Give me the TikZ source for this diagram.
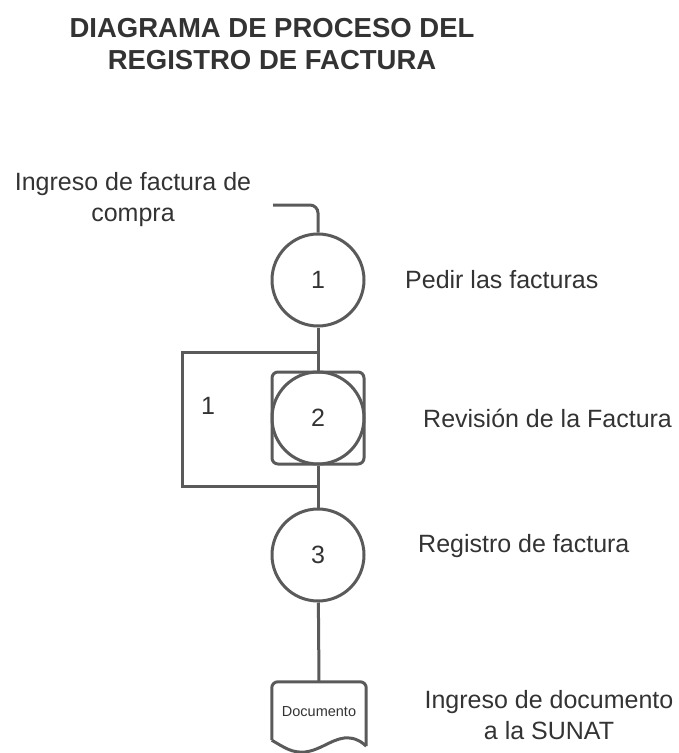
\documentclass[tikz,border=0pt]{standalone}
\usepackage{fontspec}
\setmainfont{Liberation Sans}
\usetikzlibrary{positioning}
\definecolor{linegray}{HTML}{5A5A5A}
\definecolor{textgray}{HTML}{333333}

\begin{document}
\begin{tikzpicture}
			[x=1pt,y=-1pt,font=\fontsize{25}{31}\selectfont,text=textgray,
			step node/.style={shape=circle,draw=linegray,line width=3pt,minimum
				size=92pt,inner sep=0pt},
			check box/.style={shape=rectangle,draw=linegray,line width=3pt,rounded corners=6pt,minimum
				size=92pt,inner sep=0pt},
			link/.style={draw=linegray,line width=3pt},
			label/.style={align=center,inner sep=0pt}]
			\useasboundingbox (0,0) rectangle (678,753);

			% title
			\node (title) [label,font=\fontsize{27.5}{31.5}\selectfont\bfseries] at (272,44) {DIAGRAMA DE PROCESO DEL\\REGISTRO DE FACTURA};

			% steps
			\node (c1) [step node] at (318,280) {1};
			\node (sq) [check box] at (318,418) {};
			\node (c2) [step node] at (318,418) {2};
			\node (c3) [step node] at (318,555) {3};
			\node (doc) [minimum width=94pt,minimum height=58pt,inner sep=0pt] at (319,711) {};
			\node (doct) [font=\fontsize{14.5}{16}\selectfont] at (319,712) {Documento};

			% texts
			\node (t0) [label] at (133,200) {Ingreso de factura de\\compra};
			\node (t1) [label,anchor=west] at (405,280) {Pedir las facturas};
			\node (t2) [label,anchor=west] at (423,418) {Revisión de la Factura};
			\node (t3) [label,anchor=west] at (418,546) {Registro de factura};
			\node (t4) [label] at (549,715) {Ingreso de documento\\a la SUNAT};
			\node (n1) [label] at (208,406) {1};

			\coordinate (in0) at (273,205);
			\coordinate (b1) at (318,352);
			\coordinate (b2) at (318,486);

			\draw [link,rounded corners=8pt] (in0) -| (c1.north);
			\draw [link] (c1) -- (sq);
			\draw [link] (b1) -- (182,352) |- (b2);
			\draw [link] (sq) -- (c3);
			\draw [link] (c3) -- (doc.north);
			\draw [link,rounded corners=6pt] (doc.south west) -- (doc.north west) -- (doc.north east) -- ([yshift=-6pt]doc.south east);
			% wavy bottom
			\draw [link] (doc.south west) .. controls (285,748) and (292,753) .. (305,752)
				.. controls (322,750) and (335,736) .. (350,738)
				.. controls (358,739) and (363,743) .. ([yshift=-6pt]doc.south east);
			\end{tikzpicture}
\end{document}
